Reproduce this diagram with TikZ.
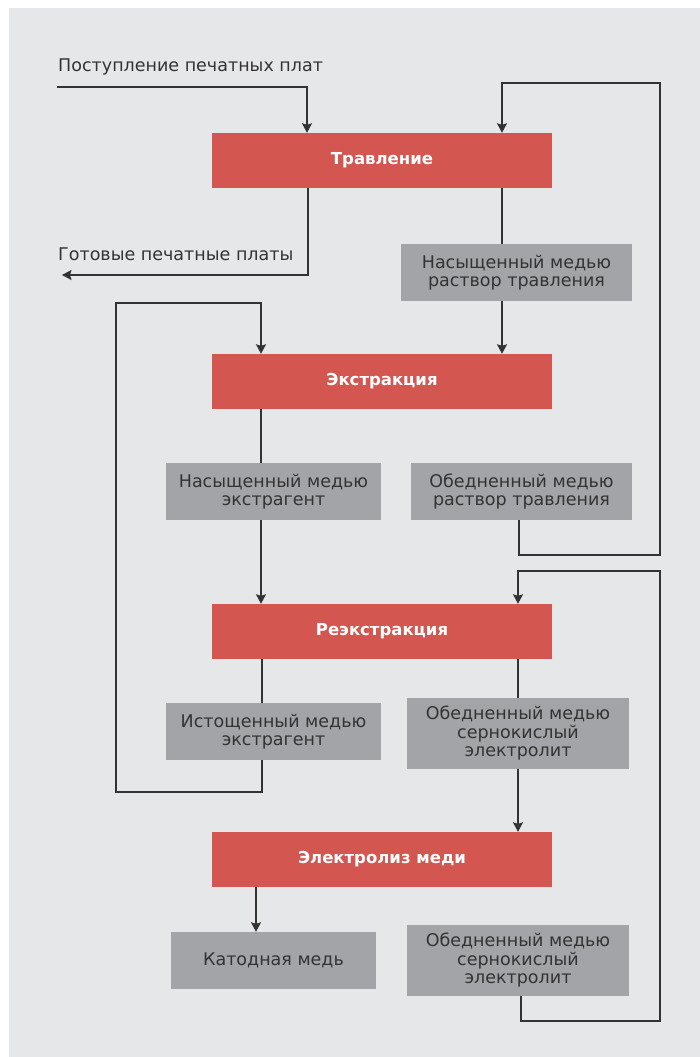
\documentclass[tikz,border=0pt]{standalone}
\usepackage{fontspec}
\setmainfont{DejaVu Sans}
\usetikzlibrary{arrows.meta}
\definecolor{bgray}{HTML}{E6E7E9}
\definecolor{bred}{HTML}{D35650}
\definecolor{bbox}{HTML}{A3A4A7}
\definecolor{ink}{HTML}{333333}
\tikzset{
  stage/.style={fill=bred,text=white,font=\bfseries\fontsize{16.5}{18}\selectfont,
    minimum width=340pt,minimum height=55pt,inner sep=0pt},
  prod/.style={fill=bbox,text=ink,font=\fontsize{17.5}{18.5}\selectfont,align=center,
    minimum height=57pt,inner sep=0pt},
  note/.style={text=ink,font=\fontsize{17.5}{18.5}\selectfont,inner sep=0pt,anchor=base west},
  wire/.style={draw=ink,line width=1.3pt},
  flow/.style={wire,-{Stealth[length=9.5pt,width=10pt,inset=1.5pt]}},
}
\begin{document}
\begin{tikzpicture}[x=1pt,y=-1pt]
\useasboundingbox (0,0) rectangle (700,1057);
\fill[white] (0,0) rectangle (700,1057);
\fill[bgray] (9,8) rectangle (700,1057);
\node[stage] (trav) at (382,160.5) {Травление};
\node[stage] (ekstr) at (382,381.5) {Экстракция};
\node[stage] (reekstr) at (382,631.5) {Реэкстракция};
\node[stage] (elektr) at (382,859.5) {Электролиз меди};
\node[prod,minimum width=231pt] (nasr) at (516.5,272.5) {Насыщенный медью\\раствор травления};
\node[prod,minimum width=215pt] (nase) at (273.5,491.5) {Насыщенный медью\\экстрагент};
\node[prod,minimum width=221pt] (obr) at (521.5,491.5) {Обедненный медью\\раствор травления};
\node[prod,minimum width=215pt] (ist) at (273.5,731.5) {Истощенный медью\\экстрагент};
\node[prod,minimum width=222pt,minimum height=71pt] (obel) at (518,733.5) {Обедненный медью\\сернокислый\\электролит};
\node[prod,minimum width=205pt] (kat) at (273.5,960.5) {Катодная медь};
\node[prod,minimum width=222pt,minimum height=71pt] (obelb) at (518,960.5) {Обедненный медью\\сернокислый\\электролит};
\node[note] (vhod) at (58,71) {Поступление печатных плат};
\node[note] (vyhod) at (58,260) {Готовые печатные платы};
\coordinate (vh) at (57,87);
\coordinate (vy) at (62,275);
\coordinate (xa) at (307,87);
\coordinate (xb) at (308,275);
\coordinate (xr) at (502,83);
\coordinate (ob1) at (519,555);
\coordinate (ob2) at (660,83);
\coordinate (xl) at (261,303);
\coordinate (il) at (262,792);
\coordinate (lf) at (116,303);
\coordinate (xm) at (518,571);
\coordinate (ob3) at (521,1021);
\coordinate (ob4) at (660,571);
\coordinate (xk) at (256,0);
\draw[flow] (vh) -| (trav.north -| xa);
\draw[flow] (trav.south -| xb) |- (vy);
\draw[wire] (trav.south -| xr) -- (nasr.north -| xr);
\draw[flow] (nasr.south -| xr) -- (ekstr.north -| xr);
\draw[flow] (obr.south -| ob1) -- (ob1) -| (ob2) -- (xr) -- (trav.north -| xr);
\draw[wire] (ekstr.south -| xl) -- (nase.north -| xl);
\draw[flow] (nase.south -| xl) -- (reekstr.north -| xl);
\draw[wire] (reekstr.south -| il) -- (ist.north -| il);
\draw[flow] (ist.south -| il) -- (il) -| (lf) -- (xl) -- (ekstr.north -| xl);
\draw[wire] (reekstr.south -| xm) -- (obel.north -| xm);
\draw[flow] (obel.south -| xm) -- (elektr.north -| xm);
\draw[flow] (obelb.south -| ob3) -- (ob3) -| (ob4) -- (xm) -- (reekstr.north -| xm);
\draw[flow] (elektr.south -| xk) -- (kat.north -| xk);
\end{tikzpicture}
\end{document}
